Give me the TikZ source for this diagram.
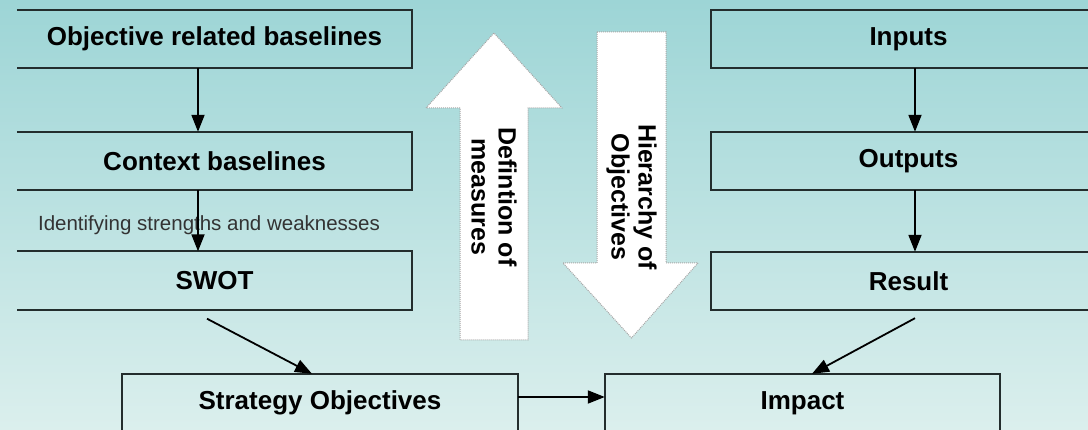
\documentclass[tikz,border=0pt]{standalone}
\usepackage{fontspec}
\setmainfont{Liberation Sans}
\usetikzlibrary{arrows.meta}
\definecolor{bgtop}{RGB}{157,213,214}
\definecolor{bgbottom}{RGB}{219,239,237}
\definecolor{edge}{RGB}{35,45,45}
\tikzset{
    stage/.style={minimum width=395pt, minimum height=58pt, inner sep=0pt, font=\fontsize{26}{28}\selectfont\bfseries},
    frame/.style={line width=1.8pt, draw=edge},
    flow/.style={-{Triangle[length=17pt,width=13pt]}, line width=1.8pt, draw=black},
    bigarrow/.style={fill=white, draw=gray!70, densely dotted, line width=1pt},
    bigtext/.style={rotate=-90, align=center, font=\fontsize{25}{27}\selectfont\bfseries}
}

\begin{document}
\begin{tikzpicture}[x=1pt,y=-1pt]
		% background
		\useasboundingbox (0,0) rectangle (1088,430);
		\clip (0,0) rectangle (1088,430);
		\shade[top color=bgtop, bottom color=bgbottom] (0,0) rectangle (1088,430);

		% baselines
		\node[stage] (obj) at (214.5,39) {Objective related baselines};
		\node[stage] (ctx) at (214.5,161) {Context baselines};
		\node[stage] (swot) at (214.5,280.5) {SWOT};
		\node[stage] (strat) at (320,403) {Strategy Objectives};
		\node[font=\fontsize{20.5}{22}\selectfont, text=black!80] (sw) at (209,225) {Identifying strengths and weaknesses};

		\foreach \n in {obj,ctx,swot}
			\draw[frame] (\n.north west) -- (\n.north east) -- (\n.south east) -- (\n.south west);
		\draw[frame] (strat.south west) rectangle (strat.north east);

		\draw[flow] ([xshift=-16.5pt]obj.south) -- ([xshift=-16.5pt]ctx.north);
		\draw[flow] ([xshift=-16.5pt]ctx.south) -- ([xshift=-16.5pt]swot.north);
		\draw[flow] ([xshift=-7.5pt,yshift=-9pt]swot.south) -- ([xshift=-8pt]strat.north);

		% results
		\node[stage] (inp) at (908.5,39) {Inputs};
		\node[stage] (outp) at (908.5,161) {Outputs};
		\node[stage] (res) at (908.5,281) {Result};
		\node[stage] (imp) at (802.5,403) {Impact};

		\foreach \n in {inp,outp,res}
			\draw[frame] (\n.north east) -- (\n.north west) -- (\n.south west) -- (\n.south east);
		\draw[frame] (imp.south west) rectangle (imp.north east);

		\draw[flow] ([xshift=6.5pt]inp.south) -- ([xshift=6.5pt]outp.north);
		\draw[flow] ([xshift=6.5pt]outp.south) -- ([xshift=6.5pt]res.north);
		\draw[flow] ([xshift=6.5pt,yshift=-8pt]res.south) -- ([xshift=9.5pt]imp.north);

		\draw[flow] ([yshift=6pt]strat.east) -- ([yshift=6pt]imp.west);

		% up and down block arrows
		\draw[bigarrow] (460,340) -- (460,108) -- (426,108) -- (494,33) -- (562,108) -- (528,108) -- (528,340) -- cycle;
		\draw[bigarrow] (597,32) -- (666,32) -- (666,263) -- (698,263) -- (631.5,338) -- (563,263) -- (597,263) -- cycle;
		\node[bigtext] (defn) at (494,197) {Defintion of\\measures};
		\node[bigtext] (hier) at (631.5,197) {Hierarchy of\\Objectives};

	\end{tikzpicture}
\end{document}
